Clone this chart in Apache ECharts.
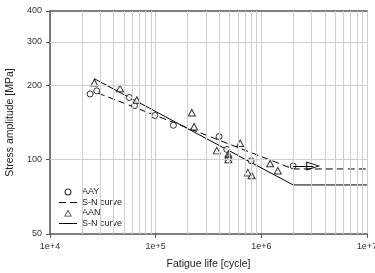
<!DOCTYPE html>
<html><head><meta charset="utf-8">
<script src="https://cdn.jsdelivr.net/npm/echarts@6/dist/echarts.min.js"></script>
<style>html,body{margin:0;padding:0;background:#fff}#c{width:375px;height:273px}</style>
</head><body><div id="c"></div>
<script>
// AAY specimens (circles)
const aayLife   = [23950, 27680, 56340, 63100, 98050, 147100, 398000, 471000, 800500, 2000000];
const aayStress = [184.5, 190, 178.6, 165.4, 151, 137.8, 124, 110, 99, 94.3];
// AAN specimens (triangles)
const aanLife   = [26270, 46000, 66220, 219800, 231000, 630000, 378900, 487500, 487500, 487000, 745000, 809000, 1212000, 1432000];
const aanStress = [205, 194, 174.5, 155, 136, 116.5, 108.8, 105.4, 103, 100.2, 88.6, 86.3, 96.5, 90.2];
// S-N curves
const snAayLife   = [28480, 2000000, 10000000];
const snAayStress = [186, 91.7, 91.7];
const snAanLife   = [26110, 2000000, 10000000];
const snAanStress = [213, 79, 79];
// run-out arrow
const runoutLife = [2000000, 3100000];
const runoutStress = [94.3, 94.3];
// ticks / grid
const yTicks = [50, 100, 200, 300, 400];
const yGrid = [100, 200, 300];
const minorXGrid = [2e4,3e4,4e4,5e4,6e4,7e4,8e4,9e4,2e5,3e5,4e5,5e5,6e5,7e5,8e5,9e5,2e6,3e6,4e6,5e6,6e6,7e6,8e6,9e6];

const zip = (a, b) => a.map((v, i) => [v, b[i]]);
const FONT = 'Liberation Sans';
const GRID = '#cfcfcf';
const RING = 'path://M5,0 A5,5 0 1,1 5,10 A5,5 0 1,1 5,0 Z M5,1.6 A3.4,3.4 0 1,0 5,8.4 A3.4,3.4 0 1,0 5,1.6 Z';
const TRI_RING = 'path://M5,0 L10,9 L0,9 Z M5,2.4 L1.7,8 L8.3,8 Z';
const HEAD = 'path://M5,0 L10,14 L0,14 Z M5,2.6 L1.5,13 L8.5,13 Z';
const chart = echarts.init(document.getElementById('c'));
chart.setOption({
  animation: false,
  backgroundColor: '#fff',
  grid: { left: 50, right: 8, top: 11, bottom: 39, containLabel: false, outerBoundsMode: 'none' },
  legend: {
    data: [
      { name: 'AAY', icon: RING, itemStyle: { color: '#000', borderWidth: 0 } },
      { name: 'S-N curve', icon: 'path://M0,0h7v1h-7z M11,0h7v1h-7z', itemStyle: { color: '#000', borderWidth: 0 } },
      { name: 'AAN', icon: TRI_RING, itemStyle: { color: '#000', borderWidth: 0 } },
      { name: 'S-N curve ', icon: 'path://M0,0h18v1h-18z', itemStyle: { color: '#000', borderWidth: 0 } }
    ],
    orient: 'vertical', left: 54, top: 182,
    itemWidth: 18, itemHeight: 7, itemGap: 0.5,
    textStyle: { fontFamily: FONT, fontSize: 9, color: '#222', lineHeight: 10 },
    selectedMode: false
  },
  xAxis: [{
    type: 'log', logBase: 10, min: 1e4, max: 1e7,
    name: 'Fatigue life [cycle]', nameLocation: 'middle', nameGap: 25,
    nameTextStyle: { fontFamily: FONT, fontSize: 10.5, color: '#222' },
    axisLine: { lineStyle: { color: '#555', width: 1.5 } },
    axisTick: { show: true, length: 4, lineStyle: { color: '#555' } },
    axisLabel: { fontFamily: FONT, fontSize: 9, color: '#333', margin: 8,
      formatter: v => '1e+' + Math.round(Math.log10(v)) },
    splitLine: { show: true, lineStyle: { color: GRID, width: 1 } }
  }, {
    type: 'log', logBase: 10, min: 1e4, max: 1e7, position: 'top',
    axisLine: { show: true, lineStyle: { color: '#555', width: 1.5 } },
    axisTick: { show: false }, axisLabel: { show: false }, splitLine: { show: false }
  }],
  yAxis: {
    type: 'log', logBase: 10, min: 50, max: 400,
    name: 'Stress amplitude [MPa]', nameLocation: 'middle', nameGap: 30,
    nameTextStyle: { fontFamily: FONT, fontSize: 10.5, color: '#222' },
    axisLine: { show: true, lineStyle: { color: '#555', width: 1.5 } },
    axisTick: { show: true, length: 4, customValues: yTicks, lineStyle: { color: '#555' } },
    axisLabel: { fontFamily: FONT, fontSize: 9, color: '#333', margin: 8, customValues: yTicks },
    splitLine: { show: false }
  },
  series: [
    {
      name: 'grid', type: 'line', data: [], z: 1, silent: true,
      markLine: { silent: true, symbol: ['none', 'none'], label: { show: false },
        lineStyle: { color: GRID, width: 1, type: 'solid' },
        data: minorXGrid.map(v => ({ xAxis: v })).concat(yGrid.map(v => ({ yAxis: v }))) }
    },
    {
      name: 'AAY', type: 'scatter', data: zip(aayLife, aayStress),
      symbol: 'circle', symbolSize: 6,
      itemStyle: { color: '#fff', borderColor: '#000', borderWidth: 1 }, z: 4,
      markLine: { silent: true, symbol: ['none', HEAD], symbolSize: [9, 14],
        label: { show: false }, lineStyle: { color: '#000', width: 1, type: 'solid' },
        data: [[{ coord: [runoutLife[0], runoutStress[0]] }, { coord: [runoutLife[1], runoutStress[1]] }]] }
    },
    {
      name: 'S-N curve', type: 'line', data: zip(snAayLife, snAayStress),
      symbol: 'none', lineStyle: { color: '#000', width: 1, type: [7, 4] },
      itemStyle: { color: '#000' }, z: 3
    },
    {
      name: 'AAN', type: 'scatter', data: zip(aanLife, aanStress),
      symbol: 'triangle', symbolSize: [7, 6.5],
      itemStyle: { color: '#fff', borderColor: '#000', borderWidth: 1 }, z: 4
    },
    {
      name: 'S-N curve ', type: 'line', data: zip(snAanLife, snAanStress),
      symbol: 'none', lineStyle: { color: '#000', width: 1, type: 'solid' },
      itemStyle: { color: '#000' }, z: 3
    }
  ]
});
</script></body></html>
